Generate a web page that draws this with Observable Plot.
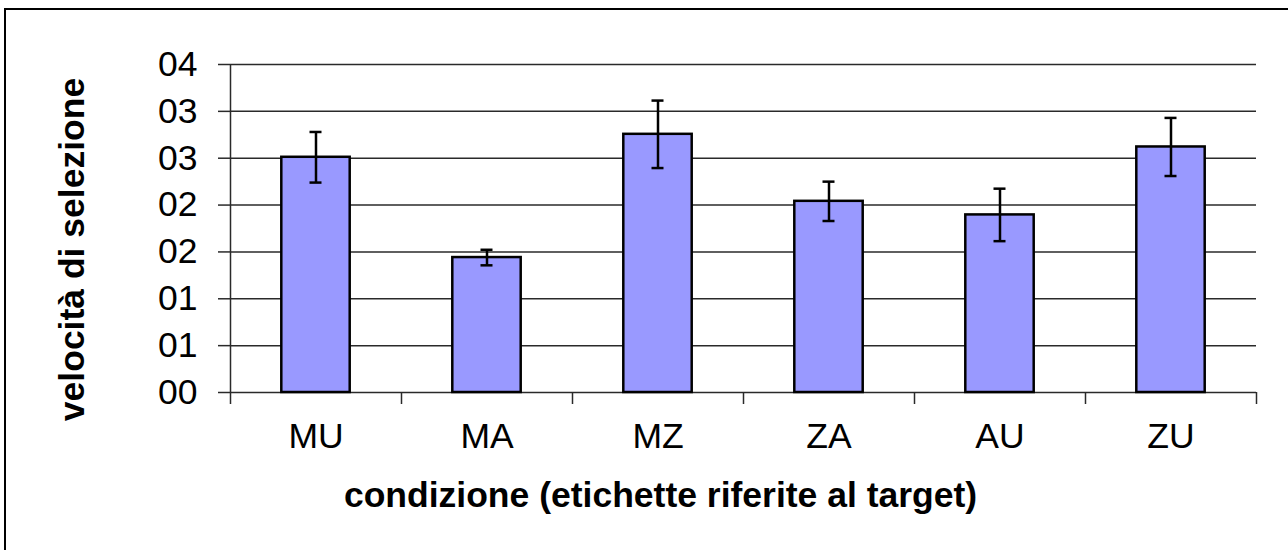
<!DOCTYPE html>
<html><head><meta charset="utf-8">
<script src="https://cdn.jsdelivr.net/npm/d3@7"></script>
<script src="https://cdn.jsdelivr.net/npm/@observablehq/plot@0.6"></script>
<style>
html,body{margin:0;padding:0;background:#fff;overflow:hidden;width:1288px;height:550px;}
#chart{position:absolute;left:0;top:0;}
#border{position:absolute;left:4px;top:8px;width:1300px;height:560px;border-left:2px solid #000;border-top:2px solid #000;}
</style></head><body>
<div id="border"></div><div id="chart"></div>
<script>
const categories = ["MU","MA","MZ","ZA","AU","ZU"];
const means = [2.51, 1.44, 2.755, 2.04, 1.895, 2.62];
const errors = [0.27, 0.083, 0.36, 0.21, 0.28, 0.31];
const yTicks = [0, 0.5, 1, 1.5, 2, 2.5, 3, 3.5];
const yTickLabels = ["00","01","01","02","02","03","03","04"];
const xTitle = "condizione (etichette riferite al target)";
const yTitle = "velocità di selezione";

const data = categories.map((c, i) => ({c, i, mean: means[i], lo: means[i] - errors[i], hi: means[i] + errors[i]}));
const gridColor = "#2a2a2a";

const plot = Plot.plot({
  width: 1288, height: 550,
  marginLeft: 230, marginRight: 32, marginTop: 64, marginBottom: 158,
  style: {fontFamily: "'Liberation Sans', Arial, sans-serif", background: "transparent", overflow: "visible", color: "#000"},
  x: {type: "linear", domain: [0, categories.length]},
  y: {domain: [0, 3.5]},
  marks: [
    Plot.ruleY(yTicks, {stroke: gridColor, strokeWidth: 1.5}),
    Plot.ruleX([0], {stroke: gridColor, strokeWidth: 1.5}),
    Plot.axisY({ticks: yTicks, tickSize: 12, tickPadding: 21, tickFormat: d => yTickLabels[yTicks.indexOf(d)], fontSize: 35.5, label: null, stroke: gridColor, strokeWidth: 1.5, fill: "#000"}),
    Plot.axisX({ticks: d3.range(0, categories.length + 1), tickSize: 12, tickFormat: () => "", label: null, stroke: gridColor, strokeWidth: 1.5}),
    Plot.axisX({ticks: data.map(d => d.i + 0.5), tickSize: 0, tickPadding: 30, tickFormat: d => categories[Math.floor(d)], fontSize: 35.5, label: null, fill: "#000"}),
    Plot.rectY(data, {x1: d => d.i + 0.3, x2: d => d.i + 0.7, y: "mean", fill: "#9999ff", stroke: "#000", strokeWidth: 2.5}),
    Plot.ruleX(data, {x: d => d.i + 0.5, y1: "lo", y2: "hi", stroke: "#000", strokeWidth: 2.5}),
    Plot.ruleY(data, {x1: d => d.i + 0.5, x2: d => d.i + 0.5, y: "hi", insetLeft: -6, insetRight: -6, stroke: "#000", strokeWidth: 2.5}),
    Plot.ruleY(data, {x1: d => d.i + 0.5, x2: d => d.i + 0.5, y: "lo", insetLeft: -6, insetRight: -6, stroke: "#000", strokeWidth: 2.5}),
    Plot.text([yTitle], {text: d => d, frameAnchor: "left", textAnchor: "middle", rotate: -90, dx: -147, dy: 21, lineAnchor: "bottom", fontSize: 35.5, fontWeight: "bold", fill: "#000"}),
    Plot.text([xTitle], {text: d => d, frameAnchor: "bottom", textAnchor: "middle", dx: -83, dy: 114, lineAnchor: "bottom", fontSize: 35.5, fontWeight: "bold", fill: "#000"})
  ]
});
document.getElementById("chart").appendChild(plot);
</script>
</body></html>
